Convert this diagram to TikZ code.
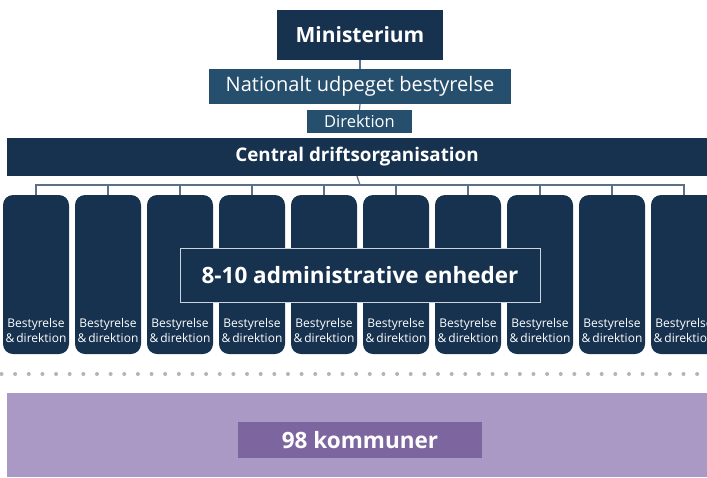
\documentclass[tikz,border=0pt]{standalone}
\usepackage{fontspec}
\setmainfont{Open Sans}
\definecolor{navy}{HTML}{17324F}
\definecolor{steel}{HTML}{264F6E}
\definecolor{linegray}{HTML}{5B6F86}
\definecolor{dotgray}{HTML}{B4B4B4}
\definecolor{lilac}{HTML}{AA99C4}
\definecolor{plum}{HTML}{7D66A0}
\definecolor{edgeblue}{HTML}{C9D4DF}
\tikzset{
  box/.style={fill=navy, text=white, inner sep=0pt},
  subbox/.style={fill=steel, text=white, inner sep=0pt},
  unit/.style={fill=navy, rounded corners=10pt, minimum width=66, minimum height=159, inner sep=0pt},
  unitlab/.style={text=white, align=center, font=\fontsize{12}{15}\selectfont, inner sep=0pt},
  link/.style={draw=linegray, line width=1.2pt},
}
\begin{document}
\begin{tikzpicture}[x=1pt,y=-1pt]
\useasboundingbox (0,0) rectangle (707,477);
% top of the organisation
\node[box, minimum width=166, minimum height=50, font=\bfseries\fontsize{21}{25}\selectfont] (min) at (360,35) {Ministerium};
\node[subbox, minimum width=302, minimum height=35, font=\fontsize{20}{24}\selectfont] (nat) at (360,86.5) {Nationalt udpeget bestyrelse};
\node[subbox, minimum width=105, minimum height=23, font=\fontsize{16.5}{19}\selectfont] (dir) at (359.5,121.5) {Direktion};
\node[box, minimum width=700, minimum height=38, font=\bfseries\fontsize{18.8}{22}\selectfont] (cen) at (357,157) {Central driftsorganisation};
\draw[link] (min.south) -- (nat.north);
\draw[link] (nat.south) -- (dir.north);
% the units
\foreach \i in {0,...,9} {
  \node[unit] (col\i) at (36+72*\i,274.5) {};
  \node[unitlab] (lab\i) at (36+72*\i,330) {Bestyrelse\\\&\,direktion};
}
\coordinate (bus) at (360,185);
\draw[link] (cen.south) -- (bus);
\draw[link] (col0.north) |- (bus) -| (col9.north);
\foreach \i in {1,...,8}
  \draw[link] (col\i.north) -- (col\i.north |- bus);
\node[box, draw=edgeblue, line width=1pt, minimum width=360, minimum height=54, font=\bfseries\fontsize{22.5}{27}\selectfont] (adm) at (360,275) {8-10 administrative enheder};
% dotted separator
\foreach \k in {0,...,51}
  \fill[dotgray] (1.5+13.64*\k,374) circle (2);
% municipalities
\node[fill=lilac, minimum width=700, minimum height=84, inner sep=0pt] (kom) at (357,435) {};
\node[fill=plum, text=white, minimum width=244, minimum height=36, inner sep=0pt, font=\bfseries\fontsize{22.5}{27}\selectfont] (num) at (360,440) {98 kommuner};
\end{tikzpicture}
\end{document}
